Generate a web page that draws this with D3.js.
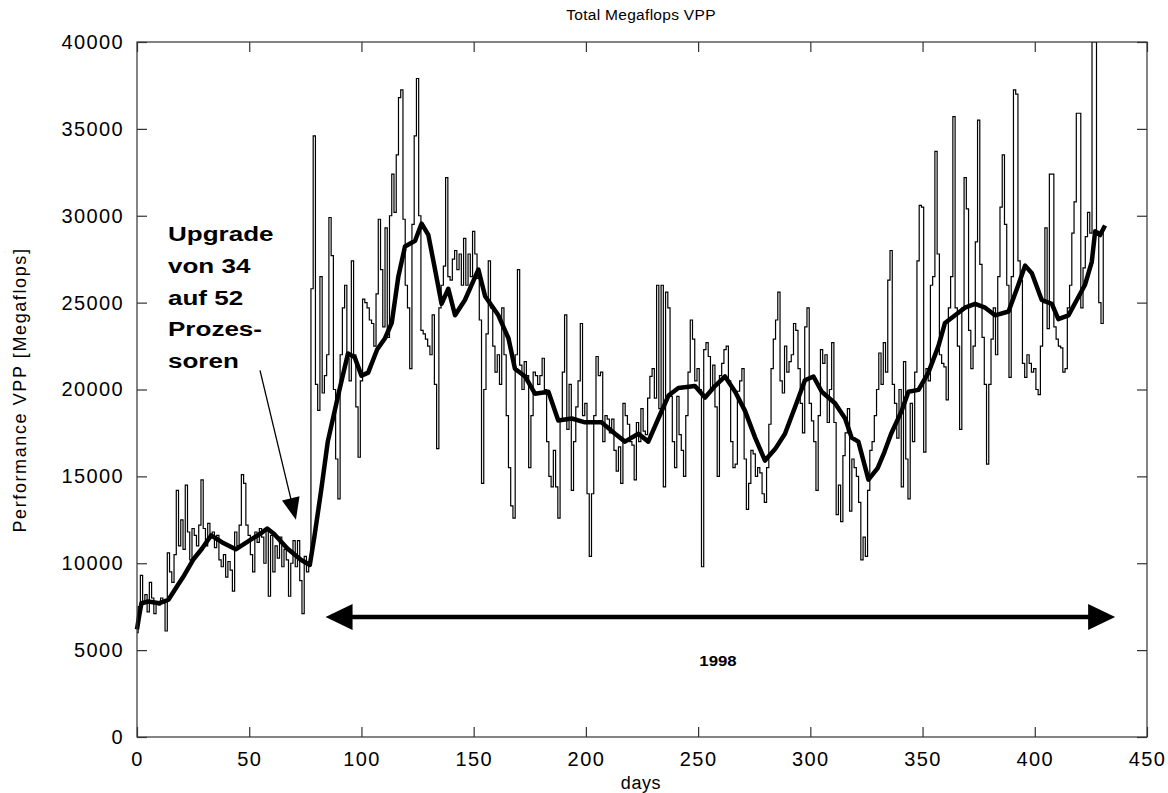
<!DOCTYPE html>
<html><head><meta charset="utf-8">
<script src="https://cdn.jsdelivr.net/npm/d3@7"></script>
<style>body{margin:0;background:#fff}</style></head>
<body><svg id="c" width="1168" height="793"></svg>
<script>
// raw daily values (day = index)
const rawValues = [
 6000,7500,9300,7800,8200,7200,8900,8000,7100,7800,7600,8000,7700,6100,
 10600,9500,8900,10500,14200,11000,12500,10800,14500,11800,10200,12000,11600,11000,12200,14800,
 12000,11000,12300,11500,11800,10900,11600,10200,9800,10500,9200,10100,9600,8400,11800,11000,12200,15100,14600,12200,
 11600,10500,9500,11800,11200,12000,11500,10000,12000,8100,11600,9500,11000,10300,11500,9800,10800,10200,8100,10000,
 11300,9800,11300,9000,7100,10400,9500,10000,
 25800,34600,20300,18800,26500,19800,20800,22000,29900,27700,20000,16000,13700,22000,24700,26000,21800,20500,27400,22000,
 19000,16100,20500,25200,25000,24700,24000,23800,22500,25500,29800,26900,23600,29300,23000,
 30000,32400,30200,33500,36800,37250,29800,26000,24700,21200,
 29500,34600,37900,30000,23400,23200,22900,22500,22000,24300,
 20300,16600,24700,26000,27100,32200,26500,26300,27500,28000,
 26900,27800,26000,28700,26000,27800,26500,29100,27800,26400,
 24000,14600,20000,23200,27400,24700,22500,21000,22000,20300,
 24700,22000,18500,15500,13300,12600,22000,26900,21400,20000,
 21600,20800,15500,18500,21000,20800,20300,20800,21800,20000,
 17000,15000,14400,16500,14400,12600,18200,21000,24300,17700,
 20300,14200,17000,19000,20500,23800,18500,19200,14000,10400,
 14000,18500,21900,20800,21000,17000,18500,18300,17500,18300,
 16500,15300,16700,14600,19200,18500,18000,17000,16800,14800,
 18100,17000,18900,17600,17400,19500,20750,21200,19500,26000,
 18900,26000,14400,25600,24700,19600,17000,15500,19600,17400,
 16500,15000,18500,21000,24000,22900,20500,21200,20000,9800,
 22300,22700,21900,20000,21400,19000,15000,20800,21500,22300,
 22500,20500,17000,15500,15700,19900,20500,21200,16000,13100,
 14600,16500,16300,15000,15500,15200,14000,13500,15500,18000,
 21200,22900,24000,25600,20500,19800,22500,21000,21600,22000,
 23800,23400,21200,19200,17500,23600,24700,19200,18200,17000,
 14200,18500,22300,21500,22000,18100,20000,22700,18100,12800,
 14500,12400,16200,17500,18900,13000,16000,15500,15000,13500,
 10200,11500,10400,14200,16500,17000,18500,20000,22100,20300,
 22700,21000,26300,
 28000,20300,19200,17200,20000,14400,21600,16000,13700,19200,
 17000,21000,27400,30600,30500,16400,21200,20500,26000,26500,
 33700,27800,22000,21500,21300,19400,24700,26500,35700,24700,
 22500,17700,24700,32200,30400,23400,21200,22500,28500,35500,
 27200,23000,20300,15700,20300,22900,24700,22000,26500,30500,
 33500,29500,26000,20700,26500,37250,37000,27400,26300,21500,
 20700,22000,21500,21000,21200,20000,19700,22500,25000,29300,
 23500,32400,32400,23600,22900,22500,22400,21000,21200,24700,
 26000,29000,30800,35900,35900,24700,27000,28800,30200,29000,
 40000,40000,29100,25000,23800,29300
];
// smoothed (moving average) curve
const smoothDays = [0,1,2,5,10,14,18,21,25,29,33,38,44,50,55,58,61,67,73,77,79,82,85,90,94,97,100,103,107,110.5,113.5,116.4,119.4,123.9,126.8,129.8,132.8,135.7,138.7,141.7,146.1,152.1,155.1,161,165.5,168.4,172.9,177.3,183.3,187.7,193.7,199.6,207,213,217.4,223.4,227.8,232.3,236.8,241.2,248.6,253.1,257.5,262,266.5,270.9,275.4,279.8,284.3,288.7,293.2,297.6,301.4,305.1,311,315.5,318.4,321.4,325.9,330,333,336,340.7,343.7,348.2,352.6,357.1,360,364.5,368.9,373.4,377.9,382.3,388.3,392.7,395.7,398.7,403.1,407.6,410.5,415,418.7,422.4,425.4,426.9,429.1,431.3];
const smoothValues = [6200,7000,7700,7800,7700,7900,8700,9300,10200,10850,11600,11200,10800,11300,11700,12000,11700,10850,10200,9900,11500,14150,17000,19870,22070,21850,20800,20970,22300,22950,23830,26470,28230,28560,29550,28900,26900,24930,25800,24270,25150,26900,25370,24270,22950,21190,20750,19760,19870,18220,18330,18110,18110,17450,17000,17450,17000,18330,19650,20090,20200,19540,20200,20750,19870,18770,17230,15910,16570,17450,18990,20530,20750,19870,19210,18330,17230,17000,14810,15470,16400,17450,18770,19870,19980,20970,22510,23830,24270,24710,24930,24710,24270,24490,26030,27130,26690,25150,24930,24050,24270,25150,26030,27350,29110,28890,29440];
const xTicks = [0,50,100,150,200,250,300,350,400,450];
const yTicks = [0,5000,10000,15000,20000,25000,30000,35000,40000];
const titleText = "Total Megaflops VPP";
const xLabel = "days";
const yLabel = "Performance VPP [Megaflops]";
const noteLines = ["Upgrade","von 34","auf 52","Prozes-","soren"];
const yearLabel = "1998";
const upgradeArrow = {from:[54.8,21100], to:[70.8,12500]};
const yearArrow = {from:84, to:435.8, value:6900};

const svg = d3.select('#c');
const L=137,T=42,R=1147,B=737;
const x = d3.scaleLinear().domain([0,450]).range([L,R]);
const y = d3.scaleLinear().domain([0,40000]).range([B,T]);
const FONT = '"Liberation Sans", Arial, Helvetica, sans-serif';

svg.append('defs').append('clipPath').attr('id','clip')
  .append('rect').attr('x',L).attr('y',T).attr('width',R-L).attr('height',B-T);

// raw line
svg.append('path').datum(rawValues.map((v,i)=>[i,v]))
  .attr('clip-path','url(#clip)')
  .attr('fill','none').attr('stroke','#000').attr('stroke-width',1.2)
  .attr('d', d3.line().x(d=>x(d[0])).y(d=>y(d[1])).curve(d3.curveStep));

// smoothed line
svg.append('path').datum(smoothDays.map((d,i)=>[d,smoothValues[i]]))
  .attr('fill','none').attr('stroke','#000').attr('stroke-width',4.5)
  .attr('stroke-linejoin','round')
  .attr('d', d3.line().x(d=>x(d[0])).y(d=>y(d[1])));

// frame
svg.append('rect').attr('x',L).attr('y',T).attr('width',R-L).attr('height',B-T)
  .attr('fill','none').attr('stroke','#333').attr('stroke-width',1.2);

function styleAxis(g){
  g.select('.domain').remove();
  g.selectAll('line').attr('stroke','#333').attr('stroke-width',1.2);
  g.selectAll('text').attr('font-family',FONT).attr('font-size',20)
   .attr('letter-spacing','1.4px').attr('fill','#000');
}
svg.append('g').attr('transform',`translate(0,${B})`)
  .call(d3.axisBottom(x).tickValues(xTicks).tickSizeInner(-10).tickSizeOuter(0).tickPadding(15).tickFormat(d3.format('d')))
  .call(styleAxis);
svg.append('g').attr('transform',`translate(0,${T})`)
  .call(d3.axisTop(x).tickValues(xTicks).tickSizeInner(-10).tickSizeOuter(0).tickFormat(''))
  .call(styleAxis);
svg.append('g').attr('transform',`translate(${L},0)`)
  .call(d3.axisLeft(y).tickValues(yTicks).tickSizeInner(-10).tickSizeOuter(0).tickPadding(13).tickFormat(d3.format('d')))
  .call(styleAxis);
svg.append('g').attr('transform',`translate(${R},0)`)
  .call(d3.axisRight(y).tickValues(yTicks).tickSizeInner(-10).tickSizeOuter(0).tickFormat(''))
  .call(styleAxis);

// titles
svg.append('text').attr('x',641).attr('y',20).attr('text-anchor','middle')
  .attr('font-family',FONT).attr('font-size',15.5).attr('letter-spacing','0.3px').text(titleText);
svg.append('text').attr('x',641).attr('y',789).attr('text-anchor','middle')
  .attr('font-family',FONT).attr('font-size',18).attr('letter-spacing','0.6px').text(xLabel);
svg.append('text').attr('transform','translate(26,390) rotate(-90)').attr('text-anchor','middle')
  .attr('font-family',FONT).attr('font-size',18).attr('letter-spacing','1.6px').text(yLabel);

// annotation text
const note = svg.append('g');
noteLines.forEach((t,i)=>{
  note.append('text').attr('transform',`translate(168,${241+i*31.8}) scale(1.24,1)`)
    .attr('font-family',FONT).attr('font-weight','bold').attr('font-size',21).text(t);
});

function head(tip, from, len, half){
  const dx=tip[0]-from[0], dy=tip[1]-from[1], d=Math.hypot(dx,dy);
  const ux=dx/d, uy=dy/d, bx=tip[0]-ux*len, by=tip[1]-uy*len;
  return [tip,[bx-uy*half,by+ux*half],[bx+uy*half,by-ux*half]];
}
// upgrade arrow
const a0=[x(upgradeArrow.from[0]),y(upgradeArrow.from[1])], a1=[x(upgradeArrow.to[0]),y(upgradeArrow.to[1])];
svg.append('line').attr('x1',a0[0]).attr('y1',a0[1]).attr('x2',a0[0]+(a1[0]-a0[0])*0.9).attr('y2',a0[1]+(a1[1]-a0[1])*0.9)
  .attr('stroke','#000').attr('stroke-width',1.3);
svg.append('polygon').attr('points',head(a1,a0,22,9).map(p=>p.join(',')).join(' ')).attr('fill','#000');

// year double arrow
const yy=y(yearArrow.value), l0=[x(yearArrow.from),yy], l1=[x(yearArrow.to),yy];
svg.append('line').attr('x1',l0[0]+20).attr('y1',yy).attr('x2',l1[0]-20).attr('y2',yy)
  .attr('stroke','#000').attr('stroke-width',4.5);
svg.append('polygon').attr('points',head(l0,l1,27,13).map(p=>p.join(',')).join(' ')).attr('fill','#000');
svg.append('polygon').attr('points',head(l1,l0,27,13).map(p=>p.join(',')).join(' ')).attr('fill','#000');
svg.append('text').attr('transform','translate(718,666) scale(1.2,1)').attr('text-anchor','middle')
  .attr('font-family',FONT).attr('font-weight','bold').attr('font-size',14).text(yearLabel);
</script></body></html>
